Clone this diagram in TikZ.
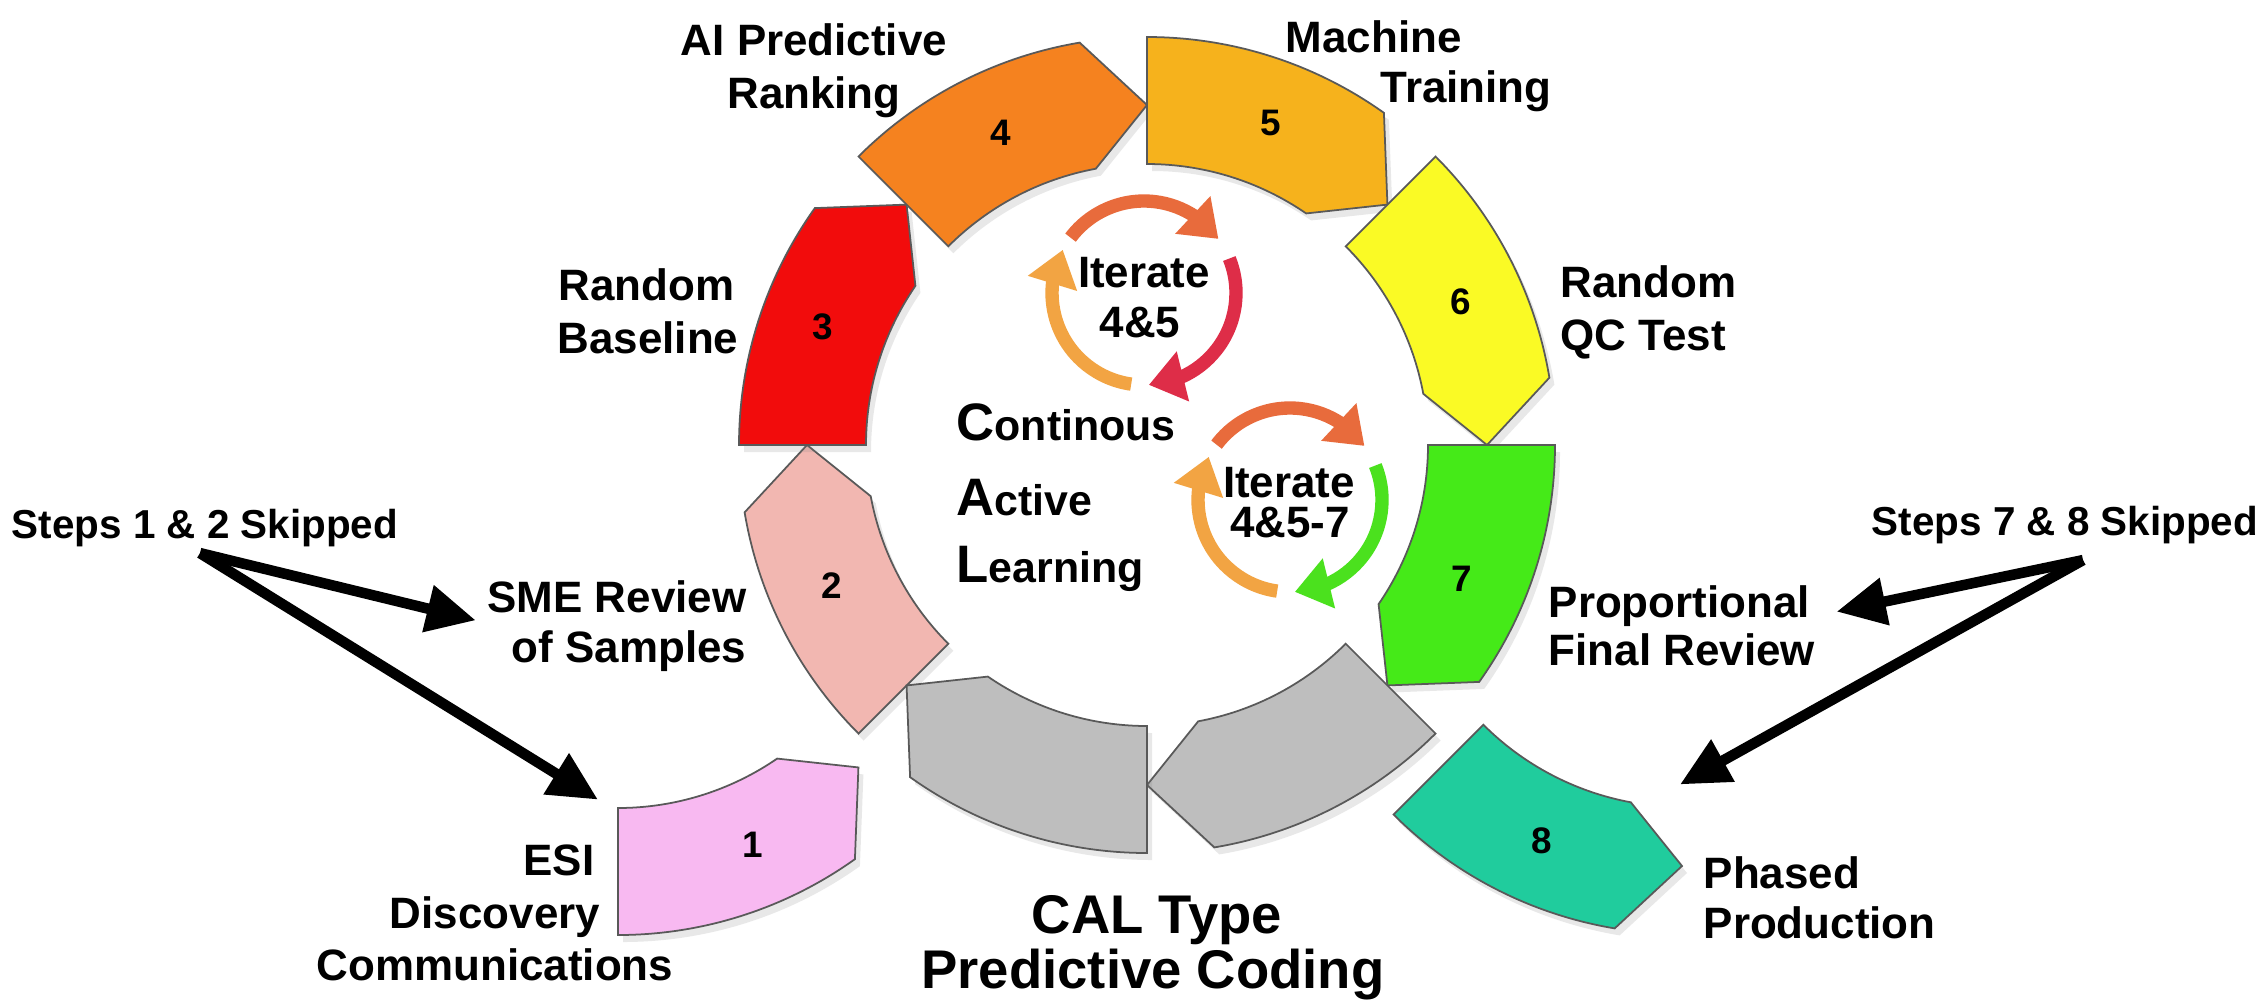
\documentclass[tikz,border=0pt]{standalone}
\usepackage{fontspec}
\setmainfont{Liberation Sans}
\usepackage{tikz}
\usetikzlibrary{calc,positioning,shadows,arrows.meta,bending}

\definecolor{col1}{HTML}{F8B9F1}
\definecolor{col2}{HTML}{F2B7B1}
\definecolor{col3}{HTML}{F20C0C}
\definecolor{col4}{HTML}{F5821F}
\definecolor{col5}{HTML}{F6B21C}
\definecolor{col6}{HTML}{FAFA25}
\definecolor{col7}{HTML}{45EA18}
\definecolor{col8}{HTML}{20CC9D}
\definecolor{colgrey}{HTML}{BEBEBE}
\definecolor{itTop}{HTML}{E86B3C}
\definecolor{itRed}{HTML}{DE2D48}
\definecolor{itLeft}{HTML}{F2A443}
\definecolor{itGreen}{HTML}{4BE11E}

\def\ringout{4.08}
\def\ringin{2.81}
\def\ringmid{3.40}

\tikzset{
  seg/.style={draw=black!65,line width=0.5pt,drop shadow={opacity=0.18,shadow xshift=0.05,shadow yshift=-0.07}},
  segnum/.style={font=\fontsize{10.5}{12}\selectfont\bfseries},
  lbl/.style={inner sep=0pt,font=\fontsize{12.5}{14}\selectfont\bfseries},
  skiptxt/.style={inner sep=0pt,font=\fontsize{11.5}{13}\selectfont\bfseries},
  cal/.style={inner sep=0pt,font=\fontsize{12.2}{14}\selectfont\bfseries},
  bigtxt/.style={inner sep=0pt,font=\fontsize{15.5}{18}\selectfont\bfseries},
  turn/.style={line width=3.8pt,-{Triangle[width=14pt,length=10pt]}},
  skiparrow/.style={line width=3pt,-{Triangle[width=13pt,length=14pt]}}
}

% ring piece: centre, angle of the flat end, turning sense (1 or -1), colour
\newcommand{\ringseg}[4]{%
  \filldraw[seg,fill=#4] ($(#1)+(#2:\ringout)$)
    arc[start angle=#2,end angle={#2+(#3)*35.5},radius=\ringout]
    -- ($(#1)+({#2+(#3)*45}:\ringmid)$)
    -- ($(#1)+({#2+(#3)*34.5}:\ringin)$)
    arc[start angle={#2+(#3)*34.5},end angle=#2,radius=\ringin] -- cycle;}
\newcommand{\capl}[1]{{\fontsize{15}{16}\selectfont #1}}

\begin{document}
\begin{tikzpicture}
  \fill[white] (0,0) rectangle (22.63,-10.01);
  \useasboundingbox (0,0) rectangle (22.63,-10.01);
  \coordinate (ring) at (11.47,-4.45);
  \coordinate (oneC) at (6.18,-5.27);
  \coordinate (eightC) at (16.82,-5.26);

  % the ring, every piece points clockwise at the next one
  \ringseg{ring}{225}{-1}{col2}
  \ringseg{ring}{180}{-1}{col3}
  \ringseg{ring}{135}{-1}{col4}
  \ringseg{ring}{90}{-1}{col5}
  \ringseg{ring}{45}{-1}{col6}
  \ringseg{ring}{0}{-1}{col7}
  \ringseg{ring}{-45}{-1}{colgrey}
  \ringseg{ring}{-90}{-1}{colgrey}
  % steps 1 and 8 sit outside
  \ringseg{oneC}{270}{1}{col1}
  \ringseg{eightC}{225}{1}{col8}

  \node[segnum] (n1) at ($(oneC)+(293:3.45)$) {1};
  \node[segnum] (n2) at ($(ring)+(204:3.45)$) {2};
  \node[segnum] (n3) at ($(ring)+(160:3.45)$) {3};
  \node[segnum] (n4) at ($(ring)+(115:3.45)$) {4};
  \node[segnum] (n5) at ($(ring)+(69:3.45)$) {5};
  \node[segnum] (n6) at ($(ring)+(24.5:3.45)$) {6};
  \node[segnum] (n7) at ($(ring)+(-23:3.42)$) {7};
  \node[segnum] (n8) at ($(eightC)+(246:3.45)$) {8};

  % iterate loops
  \coordinate (loopA) at (11.44,-2.93);
  \coordinate (loopB) at (12.90,-5.00);
  \draw[turn,draw=itTop] (loopA) ++(143:0.92) arc[start angle=143,end angle=36,radius=0.92];
  \draw[turn,draw=itRed] (loopA) ++(22:0.92) arc[start angle=22,end angle=-87,radius=0.92];
  \draw[turn,draw=itLeft] (loopA) ++(262:0.92) arc[start angle=262,end angle=152,radius=0.92];
  \draw[turn,draw=itTop] (loopB) ++(143:0.92) arc[start angle=143,end angle=36,radius=0.92];
  \draw[turn,draw=itGreen] (loopB) ++(22:0.92) arc[start angle=22,end angle=-87,radius=0.92];
  \draw[turn,draw=itLeft] (loopB) ++(262:0.92) arc[start angle=262,end angle=152,radius=0.92];
  \node[lbl,anchor=base] (itA1) at (11.44,-2.87) {Iterate};
  \node[lbl,anchor=base] (itA2) at (11.40,-3.37) {4\&5};
  \node[lbl,anchor=base] (itB1) at (12.89,-4.97) {Iterate};
  \node[lbl,anchor=base] (itB2) at (12.90,-5.37) {4\&5-7};

  \node[cal,anchor=base west] (contA) at (9.56,-4.40) {\capl{C}ontinous};
  \node[cal,anchor=base west] (contB) at (9.56,-5.15) {\capl{A}ctive};
  \node[cal,anchor=base west] (contC) at (9.56,-5.82) {\capl{L}earning};

  % step labels
  \node[lbl,anchor=base] (predA) at (8.14,-0.55) {AI Predictive};
  \node[lbl,anchor=base] (predB) at (8.14,-1.08) {Ranking};
  \node[lbl,anchor=base west] (machA) at (12.85,-0.52) {Machine};
  \node[lbl,anchor=base west] (machB) at (13.80,-1.02) {Training};
  \node[lbl,anchor=base east] (randA) at (7.35,-3.00) {Random};
  \node[lbl,anchor=base east] (randB) at (7.39,-3.53) {Baseline};
  \node[lbl,anchor=base west] (qcA) at (15.60,-2.97) {Random};
  \node[lbl,anchor=base west] (qcB) at (15.60,-3.50) {QC Test};
  \node[lbl,anchor=base east] (smeA) at (7.47,-6.12) {SME Review};
  \node[lbl,anchor=base east] (smeB) at (7.47,-6.62) {of Samples};
  \node[lbl,anchor=base east] (esiA) at (5.95,-8.75) {ESI};
  \node[lbl,anchor=base] (esiB) at (4.95,-9.28) {Discovery};
  \node[lbl,anchor=base] (esiC) at (4.95,-9.80) {Communications};
  \node[lbl,anchor=base west] (propA) at (15.48,-6.17) {Proportional};
  \node[lbl,anchor=base west] (propB) at (15.48,-6.65) {Final Review};
  \node[lbl,anchor=base west] (phA) at (17.03,-8.88) {Phased};
  \node[lbl,anchor=base west] (phB) at (17.03,-9.38) {Production};

  \node[bigtxt,anchor=base] (calA) at (11.57,-9.33) {CAL Type};
  \node[bigtxt,anchor=base] (calB) at (11.53,-9.88) {Predictive Coding};

  % skipped steps
  \node[skiptxt,anchor=base] (skipA) at (2.05,-5.38) {Steps 1 \& 2 Skipped};
  \node[skiptxt,anchor=base] (skipB) at (20.65,-5.35) {Steps 7 \& 8 Skipped};
  \coordinate (fromA) at ($(skipA.south)+(-0.05,-0.06)$);
  \coordinate (fromB) at ($(skipB.south)+(0.18,-0.16)$);
  \coordinate (smeTip) at ($(smeA.west)+(-0.11,-0.24)$);
  \coordinate (esiTip) at ($(esiA.north east)+(0.03,0.44)$);
  \coordinate (propTip) at ($(propA.east)+(0.26,-0.06)$);
  \coordinate (phTip) at ($(phA.north west)+(-0.23,0.71)$);
  \draw[skiparrow] (fromA) -- (smeTip);
  \draw[skiparrow] (fromA) -- (esiTip);
  \draw[skiparrow] (fromB) -- (propTip);
  \draw[skiparrow] (fromB) -- (phTip);
\end{tikzpicture}
\end{document}
